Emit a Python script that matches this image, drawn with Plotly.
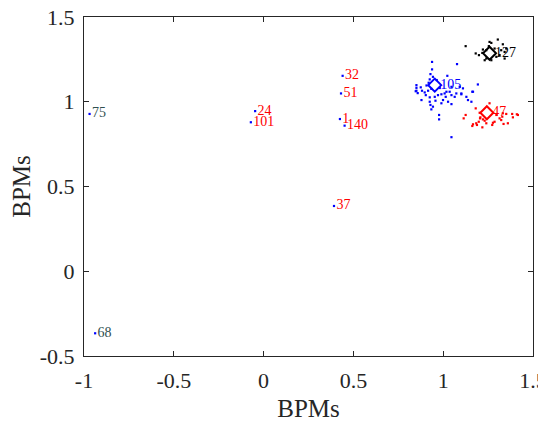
import plotly.graph_objects as go

# ---- data ----
tick_vals_x = [-1, -0.5, 0, 0.5, 1, 1.5]
tick_text_x = ["-1", "-0.5", "0", "0.5", "1", "1.5"]
tick_vals_y = [-0.5, 0, 0.5, 1, 1.5]
tick_text_y = ["-0.5", "0", "0.5", "1", "1.5"]

blue_x = [0.938, 1.077, 0.938, 0.929, 0.943, 1.023, 0.925, 0.919, 0.907, 0.851, 0.851, 0.851,
          0.875, 0.882, 0.897, 0.916, 0.934, 0.879, 0.925, 0.925, 0.953, 0.971, 0.990, 1.008,
          1.018, 1.036, 1.046, 1.064, 1.101, 1.110, 1.129, 1.138, 1.157, 1.166, 1.193, 1.092,
          1.046, 0.999, 0.990, 0.957, 0.943, 0.934, 0.977, 0.977, 1.046, 1.046, 1.014, 1.027,
          1.073, 1.162, 0.964, 0.981, 0.903, 0.858, 0.847, 1.101, 0.929]
blue_y = [1.235, 1.222, 1.191, 1.163, 1.147, 1.153, 1.132, 1.112, 1.096, 1.098, 1.082, 1.065,
          1.085, 1.065, 1.055, 1.065, 1.076, 1.010, 1.000, 1.026, 1.029, 1.039, 1.044, 1.049,
          1.059, 1.059, 1.039, 1.029, 1.049, 1.079, 1.029, 1.010, 1.000, 1.059, 1.102, 1.088,
          1.088, 1.010, 0.991, 1.006, 0.971, 0.955, 0.922, 0.896, 0.986, 0.791, 1.029, 1.000,
          1.049, 1.059, 1.128, 1.081, 1.039, 1.051, 1.062, 1.044, 0.981]

red_x = [1.258, 1.181, 1.125, 1.114, 1.203, 1.207, 1.221, 1.231, 1.166, 1.188, 1.218, 1.240,
         1.277, 1.286, 1.314, 1.329, 1.351, 1.384, 1.388, 1.416, 1.336, 1.360, 1.273, 1.323,
         1.296, 1.198, 1.410, 1.332, 1.162, 1.184, 1.205]
red_y = [0.991, 0.961, 0.922, 0.902, 0.935, 0.908, 0.896, 0.888, 0.867, 0.863, 0.849, 0.873,
         0.876, 0.882, 0.902, 0.912, 0.928, 0.928, 0.908, 0.922, 0.869, 0.873, 0.863, 0.892,
         0.922, 0.882, 0.926, 0.932, 0.857, 0.873, 0.902]

black_x = [1.125, 1.181, 1.199, 1.218, 1.240, 1.254, 1.268, 1.304, 1.286, 1.240, 1.231, 1.296,
           1.314, 1.323, 1.351, 1.342, 1.221, 1.258, 1.332, 1.342, 1.268]
black_y = [1.328, 1.285, 1.275, 1.288, 1.304, 1.328, 1.347, 1.367, 1.314, 1.255, 1.245, 1.265,
           1.275, 1.304, 1.314, 1.255, 1.308, 1.353, 1.339, 1.294, 1.245]

# cluster centres (diamonds) and their labels
center_x = [1.258, 0.953, 1.243]
center_y = [1.286, 1.098, 0.935]
center_labels = ["127", "105", "47"]
center_colors = ["#000000", "#0000FF", "#FF0000"]

# isolated labelled points
iso_x = [-0.969, -0.938, -0.047, -0.071, 0.440, 0.431, 0.425, 0.451, 0.392]
iso_y = [0.928, -0.366, 0.945, 0.879, 1.153, 1.049, 0.898, 0.859, 0.385]
iso_labels = ["75", "68", "24", "101", "32", "51", "1", "140", "37"]
iso_text_colors = ["#2F4F4F", "#2F4F4F", "#FF0000", "#FF0000", "#FF0000",
                   "#FF0000", "#FF0000", "#FF0000", "#FF0000"]

FONT = "Liberation Serif, Times New Roman, serif"

fig = go.Figure()

for xs, ys, col in [(blue_x, blue_y, "#0000FF"), (red_x, red_y, "#FF0000"), (black_x, black_y, "#000000")]:
    fig.add_trace(go.Scatter(x=xs, y=ys, mode="markers",
                             marker=dict(symbol="square", size=2.2, color=col, line=dict(width=0)),
                             showlegend=False, hoverinfo="skip"))

# isolated points with labels
fig.add_trace(go.Scatter(x=iso_x, y=iso_y, mode="markers+text", text=iso_labels,
                         textposition="middle right",
                         textfont=dict(family=FONT, size=14, color=iso_text_colors),
                         marker=dict(symbol="square", size=2.2, color="#0000FF", line=dict(width=0)),
                         showlegend=False, hoverinfo="skip"))

# diamonds
fig.add_trace(go.Scatter(x=center_x, y=center_y, mode="markers",
                         marker=dict(symbol="diamond-open", size=10, color=center_colors,
                                     line=dict(width=2, color=center_colors)),
                         showlegend=False, hoverinfo="skip"))

# cluster labels (drawn on top, offset by an invisible marker)
fig.add_trace(go.Scatter(x=center_x, y=center_y, mode="markers+text", text=center_labels,
                         textposition="middle right",
                         textfont=dict(family=FONT, size=14, color=center_colors),
                         marker=dict(size=7, color="rgba(0,0,0,0)"),
                         showlegend=False, hoverinfo="skip"))

axis_common = dict(showline=True, linecolor="#262626", linewidth=1, mirror="ticks",
                   ticks="inside", ticklen=5, tickcolor="#262626", showgrid=False,
                   zeroline=False, automargin=False, ticklabeloverflow="allow",
                   tickfont=dict(family=FONT, size=22, color="#262626"))

fig.update_layout(
    width=546, height=414,
    margin=dict(l=76, r=20.5, t=9, b=66),
    paper_bgcolor="white", plot_bgcolor="white",
    xaxis=dict(range=[-1, 1.5], tickvals=tick_vals_x, ticktext=tick_text_x,
               ticklabelstandoff=5,
               title=dict(text="BPMs", font=dict(family=FONT, size=25, color="#262626")),
               **axis_common),
    yaxis=dict(range=[-0.5, 1.5], tickvals=tick_vals_y, ticktext=tick_text_y,
               ticklabelstandoff=4,
               title=dict(text="BPMs", font=dict(family=FONT, size=25, color="#262626")),
               **axis_common),
)

fig.write_html("out.html", post_script="document.body.style.overflow='hidden';")
